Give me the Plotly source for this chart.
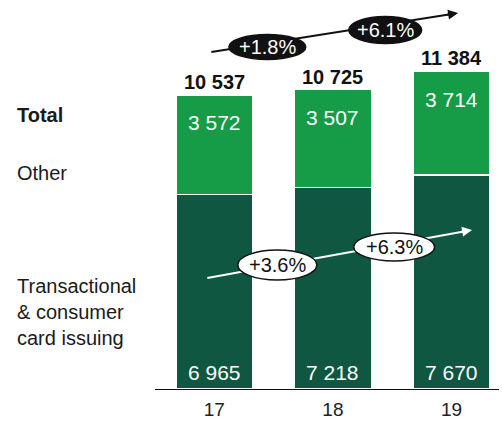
import plotly.graph_objects as go

# Revenue split per year
years = ["17", "18", "19"]
transactional = [6965, 7218, 7670]
other = [3572, 3507, 3714]
totals = [t + o for t, o in zip(transactional, other)]

DARK = "#0F5740"
LIGHT = "#169B47"
FONT = "Liberation Sans, Arial, sans-serif"


def fmt(v):
    return f"{v:,}".replace(",", " ")


def growth(a, b):
    return f"+{(b / a - 1) * 100:.1f}%"


fig = go.Figure()
fig.add_trace(go.Bar(x=years, y=transactional, marker_color=DARK,
                     marker_line=dict(color="white", width=1.5), width=0.65))
fig.add_trace(go.Bar(x=years, y=other, marker_color=LIGHT,
                     marker_line=dict(color="white", width=1.5), width=0.65))

ann = []
for i in range(len(years)):
    # total above the bar
    ann.append(dict(x=i, y=totals[i], text=f"<b>{fmt(totals[i])}</b>", showarrow=False,
                    yanchor="middle", yshift=13, font=dict(size=20, color="#111111")))
    # other segment value near its top
    ann.append(dict(x=i, y=totals[i], text=fmt(other[i]), showarrow=False,
                    yanchor="middle", yshift=-28, font=dict(size=21, color="white")))
    # transactional value at the bottom
    ann.append(dict(x=i, y=0, text=fmt(transactional[i]), showarrow=False,
                    yanchor="middle", yshift=17, font=dict(size=21, color="white")))

# Left-hand row labels
for txt, yv in [("<b>Total</b>", 9814), ("Other", 7736),
                ("Transactional<br>& consumer<br>card issuing", 2760)]:
    ann.append(dict(xref="paper", yref="y", x=-0.407, y=yv, text=txt, showarrow=False,
                    xanchor="left", yanchor="middle", align="left",
                    font=dict(size=20, color="#1a1a1a")))

shapes = []

# Growth arrow for totals (black)
shapes.append(dict(type="line", xref="x", yref="y", x0=-0.025, y0=12070, x1=2.03, y1=13450,
                   line=dict(color="#111111", width=2), layer="above"))
# Growth arrow for transactional (white)
shapes.append(dict(type="line", xref="x", yref="y", x0=-0.059, y0=3976, x1=2.15, y1=5680,
                   line=dict(color="white", width=2), layer="above"))

# Ellipse badges
badges = [
    (0.447, 12249, 0.324, 448, "#111111", None, "white", growth(totals[0], totals[1])),
    (1.441, 12858, 0.307, 484, "#111111", None, "white", growth(totals[1], totals[2])),
    (0.531, 4441, 0.333, 537, "white", "#111111", "#111111",
     growth(transactional[0], transactional[1])),
    (1.516, 5086, 0.341, 501, "white", "#111111", "#111111",
     growth(transactional[1], transactional[2])),
]
for xc, yc, hw, hh, fill, edge, tcol, txt in badges:
    shapes.append(dict(type="circle", xref="x", yref="y", x0=xc - hw, x1=xc + hw,
                       y0=yc - hh, y1=yc + hh, fillcolor=fill, layer="above",
                       line=dict(color=edge or fill, width=1.5)))
    ann.append(dict(x=xc, y=yc, text=txt, showarrow=False, xanchor="center",
                    yanchor="middle", font=dict(size=20, color=tcol)))

fig.update_layout(shapes=shapes)

# Arrowheads
ann.append(dict(x=2.055, y=13467, ax=1.95, ay=13395, xref="x", yref="y", axref="x", ayref="y",
                text="", showarrow=True, arrowhead=2, arrowsize=1, arrowwidth=2,
                arrowcolor="#111111", standoff=0))
ann.append(dict(x=2.173, y=5695, ax=2.07, ay=5620, xref="x", yref="y", axref="x", ayref="y",
                text="", showarrow=True, arrowhead=2, arrowsize=1, arrowwidth=2,
                arrowcolor="white", standoff=0))

fig.update_layout(
    annotations=ann,
    barmode="stack",
    showlegend=False,
    width=502, height=421,
    margin=dict(l=155, r=3, t=0, b=32),
    paper_bgcolor="white", plot_bgcolor="white",
    font=dict(family=FONT),
    xaxis=dict(range=[-0.5, 2.4], showgrid=False, zeroline=False, showline=True,
               linecolor="#111111", linewidth=1, ticks="", ticklabelstandoff=3,
               automargin=False, tickfont=dict(size=19, color="#222222"), fixedrange=True),
    yaxis=dict(range=[0, 13933], visible=False, showgrid=False, zeroline=False,
               automargin=False, fixedrange=True),
)

fig.write_html("out.html", config={"displayModeBar": False})
